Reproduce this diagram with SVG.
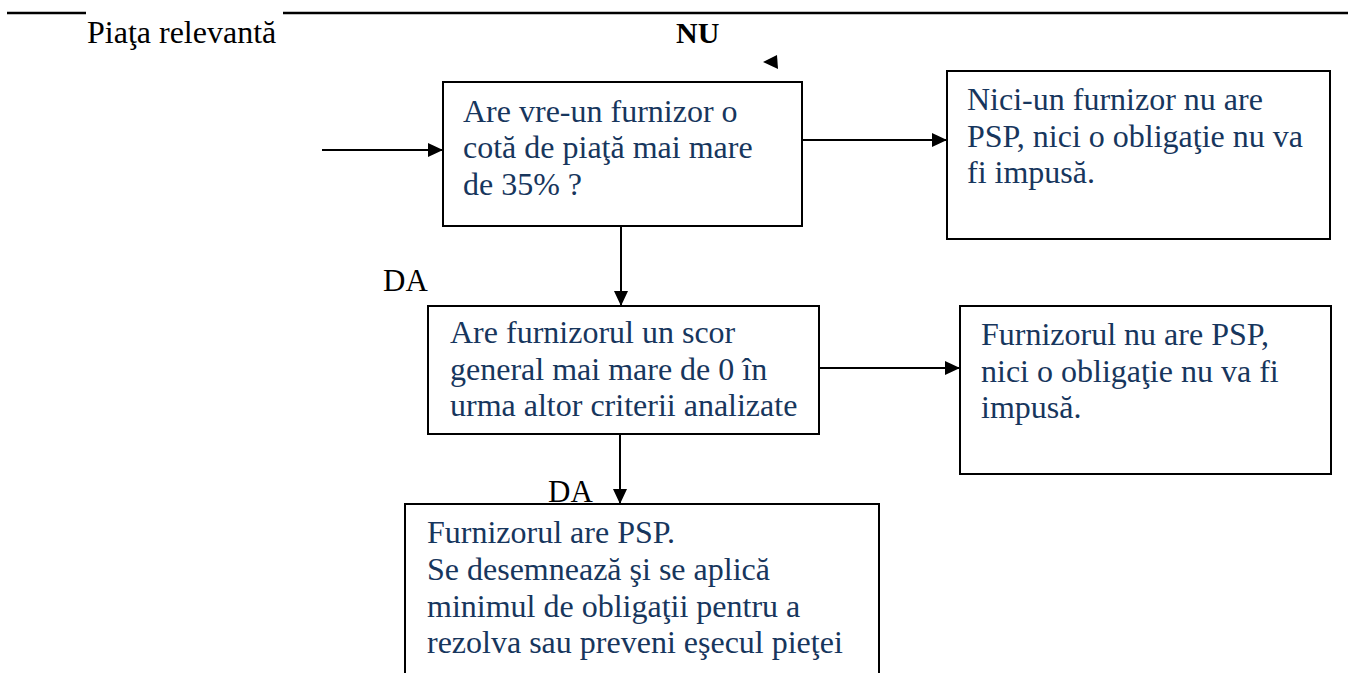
<svg xmlns="http://www.w3.org/2000/svg" width="1348" height="673" viewBox="0 0 1348 673">
<style>
.box{fill:#fff;stroke:#000;stroke-width:2}
.t{font-family:'Liberation Serif','Times New Roman',Times,'DejaVu Serif',serif;font-size:32px;fill:#17365D}
.lbl{font-family:'Liberation Serif','Times New Roman',Times,'DejaVu Serif',serif;fill:#000}
.conn{stroke:#000;stroke-width:2;fill:none}
</style>
<defs>
<marker id="ah" markerUnits="userSpaceOnUse" markerWidth="16" markerHeight="14" refX="15" refY="7" orient="auto">
<path d="M0,0 L15,7 L0,14 Z" fill="#000"/>
</marker>
</defs>
<rect width="1348" height="673" fill="#fff"/>
<g id="header">
<line x1="7" y1="13" x2="86" y2="13" stroke="#000" stroke-width="2.5"/>
<line x1="283" y1="13" x2="1348" y2="13" stroke="#000" stroke-width="2.5"/>
<text class="lbl" x="87" y="43" font-size="32">Piaţa relevantă</text>
</g>
<g id="labels">
<text class="lbl" x="676" y="43" font-size="30" font-weight="bold">NU</text>
<text class="lbl" x="383" y="291" font-size="31">DA</text>
<text class="lbl" x="548" y="502" font-size="31">DA</text>
<polygon points="763,62 777,55 778,69" fill="#000"/>
</g>
<g id="connectors">
<line class="conn" x1="322" y1="150" x2="443" y2="150" marker-end="url(#ah)"/>
<line class="conn" x1="802" y1="140" x2="947" y2="140" marker-end="url(#ah)"/>
<line class="conn" x1="621" y1="226" x2="621" y2="306" marker-end="url(#ah)"/>
<line class="conn" x1="819" y1="368" x2="960" y2="368" marker-end="url(#ah)"/>
<line class="conn" x1="620" y1="434" x2="620" y2="504" marker-end="url(#ah)"/>
</g>
<g id="q1">
<rect class="box" x="443" y="82" width="359" height="144"/>
<text class="t" x="463" y="122">Are vre-un furnizor o</text>
<text class="t" x="463" y="158">cotă de piaţă mai mare</text>
<text class="t" x="463" y="195">de 35% ?</text>
</g>
<g id="r1">
<rect class="box" x="947" y="71" width="383" height="168"/>
<text class="t" x="967" y="110">Nici-un furnizor nu are</text>
<text class="t" x="967" y="147">PSP, nici o obligaţie nu va</text>
<text class="t" x="967" y="183">fi impusă.</text>
</g>
<g id="q2">
<rect class="box" x="428" y="306" width="391" height="128"/>
<text class="t" x="450" y="343">Are furnizorul un scor</text>
<text class="t" x="450" y="380">general mai mare de 0 în</text>
<text class="t" x="450" y="416">urma altor criterii analizate</text>
</g>
<g id="r2">
<rect class="box" x="960" y="306" width="371" height="168"/>
<text class="t" x="981" y="345">Furnizorul nu are PSP,</text>
<text class="t" x="981" y="382">nici o obligaţie nu va fi</text>
<text class="t" x="981" y="418">impusă.</text>
</g>
<g id="r3">
<rect class="box" x="405" y="504" width="474" height="220"/>
<text class="t" x="427" y="543">Furnizorul are PSP.</text>
<text class="t" x="427" y="580">Se desemnează şi se aplică</text>
<text class="t" x="427" y="617">minimul de obligaţii pentru a</text>
<text class="t" x="427" y="653">rezolva sau preveni eşecul pieţei</text>
</g>
</svg>
